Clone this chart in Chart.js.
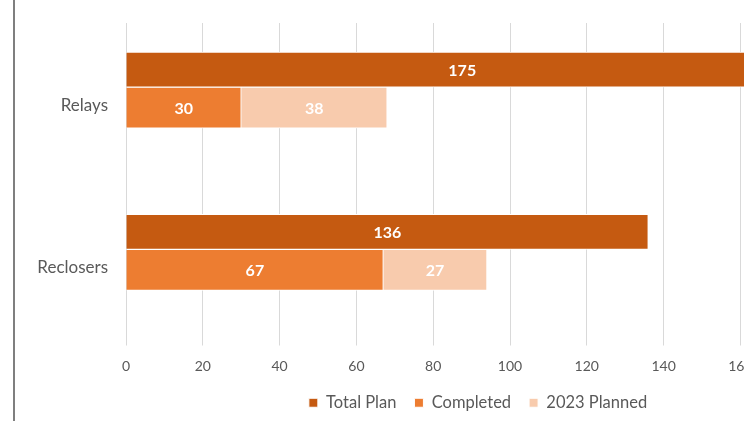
<!DOCTYPE html>
<html>
<head>
<meta charset="utf-8">
<script src="https://cdn.jsdelivr.net/npm/chart.js@4.4.1/dist/chart.umd.min.js"></script>
<style>
    html, body { margin: 0; padding: 0; background: #fff; }
    #frame { position: absolute; left: 0; top: 0; width: 744px; height: 421px; overflow: hidden; background: #fff; }
    #wrap { position: absolute; left: 0; top: 0; width: 956px; height: 421px; }
    #edge { position: absolute; left: 13px; top: 0; width: 2px; height: 421px; background: #7f7f7f; }
</style>
</head>
<body>
<div id="frame">
    <div id="wrap"><canvas id="chart"></canvas></div>
    <div id="edge"></div>
</div>
<script>
const categories = ['Relays', 'Reclosers'];
const totalPlan = [175, 136];
const completed = [30, 67];
const planned2023 = [38, 27];
const xTicks = [0, 20, 40, 60, 80, 100, 120, 140, 160, 180, 200];

const FONT = 'Lato, "Noto Sans", sans-serif';
const GRID_TOP = 23;

// white value labels in the middle of each bar
const barLabels = {
    id: 'barLabels',
    afterDatasetsDraw(chart) {
        const ctx = chart.ctx;
        ctx.save();
        ctx.fillStyle = '#ffffff';
        ctx.font = 'bold 16px ' + FONT;
        ctx.textAlign = 'center';
        ctx.textBaseline = 'middle';
        chart.data.datasets.forEach((ds, i) => {
            chart.getDatasetMeta(i).data.forEach((bar, j) => {
                const p = bar.getProps(['x', 'y', 'base'], true);
                ctx.fillText(ds.data[j], (p.x + p.base) / 2, p.y + 1);
            });
        });
        ctx.restore();
    }
};

// gridlines start a bit below the top of the plot area
const topClip = {
    id: 'topClip',
    beforeDraw(chart) {
        const ctx = chart.ctx;
        ctx.save();
        ctx.beginPath();
        ctx.rect(0, GRID_TOP, chart.width, chart.height - GRID_TOP);
        ctx.clip();
    },
    afterDraw(chart) {
        chart.ctx.restore();
    }
};

new Chart(document.getElementById('chart').getContext('2d'), {
    type: 'bar',
    data: {
        labels: categories,
        datasets: [
            { label: 'Total Plan', data: totalPlan, stack: 'total', backgroundColor: '#C55A11', barThickness: 35 },
            { label: 'Completed', data: completed, stack: 'done', backgroundColor: '#ED7D31', barThickness: 41 },
            { label: '2023 Planned', data: planned2023, stack: 'done', backgroundColor: '#F8CBAD', barThickness: 41 },
        ],
    },
    options: {
        indexAxis: 'y',
        responsive: true,
        maintainAspectRatio: false,
        animation: { duration: 0 },
        datasets: {
            bar: { borderColor: '#ffffff', borderWidth: 1, borderSkipped: 'start' },
        },
        layout: { padding: { top: 6, right: 0, bottom: 0, left: 0 } },
        scales: {
            x: {
                min: 0,
                max: 200,
                afterBuildTicks: (scale) => { scale.ticks = xTicks.map(v => ({ value: v })); },
                grid: { color: '#D9D9D9', tickLength: 15 },
                border: { display: false },
                ticks: { color: '#595959', font: { family: FONT, size: 14 }, padding: 13 },
                afterFit: (scale) => {
                    scale.height = 46;
                    scale.paddingLeft = 0;
                    scale.paddingRight = 0;
                },
            },
            y: {
                grid: { display: false },
                border: { display: false },
                ticks: { color: '#595959', font: { family: FONT, size: 17 }, padding: 10, labelOffset: 18 },
                afterFit: (scale) => {
                    scale.width = 126;
                    scale.paddingTop = 0;
                    scale.paddingBottom = 0;
                },
            },
            // empty space on the right of the plot, the legend stays centred on the whole chart
            yRight: {
                type: 'category',
                position: 'right',
                grid: { display: false },
                border: { display: false },
                ticks: { display: false },
                afterFit: (scale) => {
                    scale.width = 62;
                    scale.paddingTop = 0;
                    scale.paddingBottom = 0;
                },
            },
        },
        plugins: {
            legend: {
                position: 'bottom',
                labels: {
                    color: '#595959',
                    font: { family: FONT, size: 16.5, lineHeight: 1 },
                    boxWidth: 9,
                    boxHeight: 9,
                    padding: 18,
                },
            },
            tooltip: { enabled: false },
        },
    },
    plugins: [topClip, barLabels],
});
</script>
</body>
</html>
